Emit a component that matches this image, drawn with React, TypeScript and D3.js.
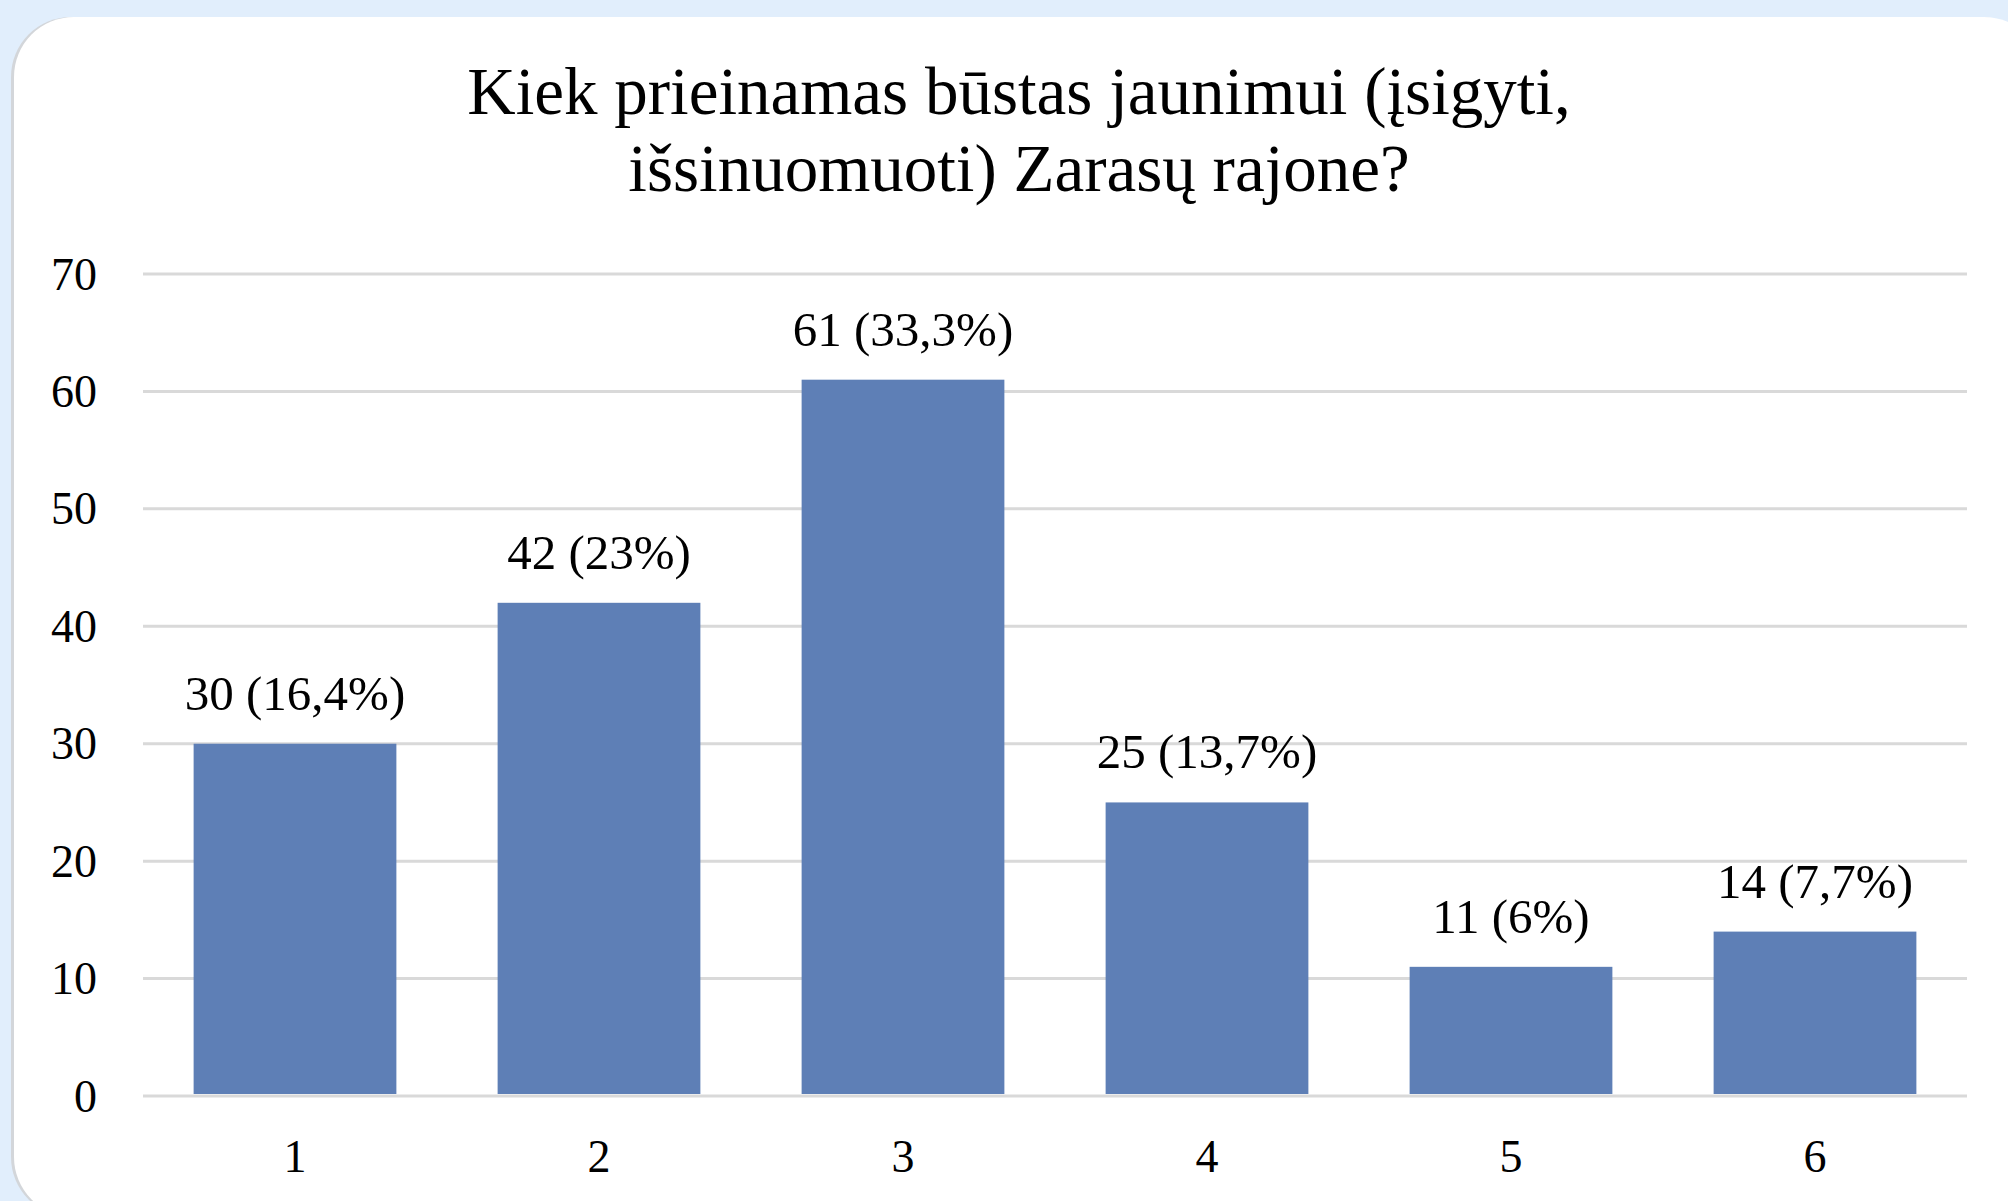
import React from "react";
import * as d3 from "d3";

const categories = ["1", "2", "3", "4", "5", "6"];
const counts = [30, 42, 61, 25, 11, 14];
const percents = ["16,4", "23", "33,3", "13,7", "6", "7,7"];
const yTicks = [0, 10, 20, 30, 40, 50, 60, 70];
const titleLines = ["Kiek prieinamas būstas jaunimui (įsigyti,", "išsinuomuoti) Zarasų rajone?"];

const W = 2008;
const H = 1201;
const plotLeft = 143;
const plotRight = 1967;
const plotTop = 274;
const plotBottom = 1096;
const font = "'Liberation Serif', 'Times New Roman', serif";

export default function App() {
  const x = d3.scaleBand<string>().domain(categories).range([plotLeft, plotRight]).paddingInner(0.333).paddingOuter(0.1665);
  const y = d3.scaleLinear().domain([0, 70]).range([plotBottom, plotTop]);

  return (
    <svg width={W} height={H} style={{ position: "absolute", left: 0, top: 0 }}>
      <rect x={0} y={0} width={W} height={H} fill="#E1EEFC" />
      <rect x={11} y={17} width={2030} height={1200} rx={60} ry={60} fill="#D3D6DA" />
      <rect x={14} y={17} width={2030} height={1200} rx={60} ry={60} fill="#FFFFFF" />
      {titleLines.map((t, i) => (
        <text key={i} x={1019} y={114 + i * 77} textAnchor="middle" fontFamily={font} fontSize={67} fill="#000">
          {t}
        </text>
      ))}
      {yTicks.map((t) => (
        <g key={t}>
          <line x1={plotLeft} x2={plotRight} y1={y(t)} y2={y(t)} stroke="#D9D9D9" strokeWidth={3} />
          <text x={97} y={y(t)} dy="0.34em" textAnchor="end" fontFamily={font} fontSize={46} fill="#000">
            {t}
          </text>
        </g>
      ))}
      {categories.map((c, i) => (
        <g key={c}>
          <rect x={x(c)} y={y(counts[i])} width={x.bandwidth()} height={y(0) - y(counts[i]) - 2} fill="#5E7FB6" />
          <text x={(x(c) as number) + x.bandwidth() / 2} y={y(counts[i]) - 34} textAnchor="middle" fontFamily={font} fontSize={49} fill="#000">
            {`${counts[i]} (${percents[i]}%)`}
          </text>
          <text x={(x(c) as number) + x.bandwidth() / 2} y={1172} textAnchor="middle" fontFamily={font} fontSize={46} fill="#000">
            {c}
          </text>
        </g>
      ))}
    </svg>
  );
}
